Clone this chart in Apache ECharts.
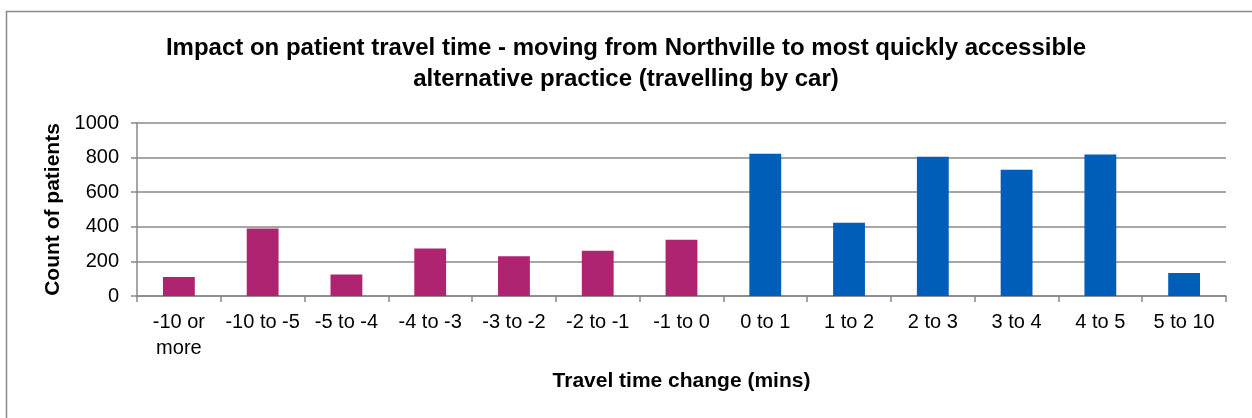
<!DOCTYPE html>
<html>
<head>
<meta charset="utf-8">
<script src="https://cdn.jsdelivr.net/npm/echarts@6/dist/echarts.min.js"></script>
<style>
  html, body { margin: 0; padding: 0; background: #fff; }
  #main { width: 1252px; height: 418px; }
</style>
</head>
<body>
<div id="main"></div>
<script>
// travel time change bands (mins) and patient counts
var fasterCats = ['-10 or\nmore', '-10 to -5', '-5 to -4', '-4 to -3', '-3 to -2', '-2 to -1', '-1 to 0'];
var slowerCats = ['0 to 1', '1 to 2', '2 to 3', '3 to 4', '4 to 5', '5 to 10'];
var fasterCounts = [110, 390, 125, 275, 230, 262, 325];
var slowerCounts = [822, 424, 805, 730, 818, 133];
var yTicks = [0, 200, 400, 600, 800, 1000];
var titleLines = [
    'Impact on patient travel time - moving from Northville to most quickly accessible',
    'alternative practice (travelling by car)'
];

var categories = fasterCats.concat(slowerCats);
var counts = fasterCounts.concat(slowerCounts);

var chartDom = document.getElementById('main');
var myChart = echarts.init(chartDom);
var option;

var fontFam = '"Liberation Sans", Arial, sans-serif';
var titleStyle = {
    fontFamily: fontFam,
    fontSize: 24,
    fontWeight: 'bold',
    color: '#000'
};

option = {
    animation: false,
    backgroundColor: '#fff',
    textStyle: { fontFamily: fontFam },
    title: [{
        text: titleLines[0],
        left: 'center',
        top: 36,
        padding: 0,
        textStyle: titleStyle
    }, {
        text: titleLines[1],
        left: 'center',
        top: 67,
        padding: 0,
        textStyle: titleStyle
    }],
    graphic: [{
        type: 'rect',
        shape: { x: 6.5, y: 11.5, width: 1300, height: 500 },
        style: { fill: 'none', stroke: '#8a8a8a', lineWidth: 1.5 },
        silent: true
    }],
    grid: {
        left: 137,
        right: 26,
        top: 123,
        bottom: 122
    },
    xAxis: {
        type: 'category',
        data: categories,
        name: 'Travel time change (mins)',
        nameLocation: 'middle',
        nameGap: 75,
        nameTextStyle: {
            fontFamily: fontFam,
            fontSize: 21,
            fontWeight: 'bold',
            color: '#000'
        },
        axisLine: { lineStyle: { color: '#888', width: 1.5 } },
        axisTick: { show: true, length: 6, lineStyle: { color: '#888', width: 1.5 } },
        axisLabel: {
            interval: 0,
            margin: 13,
            fontFamily: fontFam,
            fontSize: 20,
            color: '#000',
            lineHeight: 26
        }
    },
    yAxis: {
        type: 'value',
        min: yTicks[0],
        max: yTicks[yTicks.length - 1],
        interval: yTicks[1] - yTicks[0],
        name: 'Count of patients',
        nameLocation: 'middle',
        nameRotate: 90,
        nameGap: 70,
        nameTextStyle: {
            fontFamily: fontFam,
            fontSize: 21,
            fontWeight: 'bold',
            color: '#000'
        },
        axisLine: { show: true, lineStyle: { color: '#888', width: 1.5 } },
        axisTick: { show: true, length: 6, lineStyle: { color: '#888', width: 1.5 } },
        axisLabel: {
            margin: 18,
            fontFamily: fontFam,
            fontSize: 20,
            color: '#000',
            formatter: function (v) { return String(v); }
        },
        splitLine: { lineStyle: { color: '#888', width: 1.5 } }
    },
    series: [{
        name: 'Patients',
        type: 'bar',
        barWidth: '38%',
        data: counts,
        itemStyle: {
            color: function (p) {
                return p.dataIndex < fasterCats.length ? '#AF2471' : '#005EB8';
            }
        }
    }]
};

option && myChart.setOption(option);
</script>
</body>
</html>
